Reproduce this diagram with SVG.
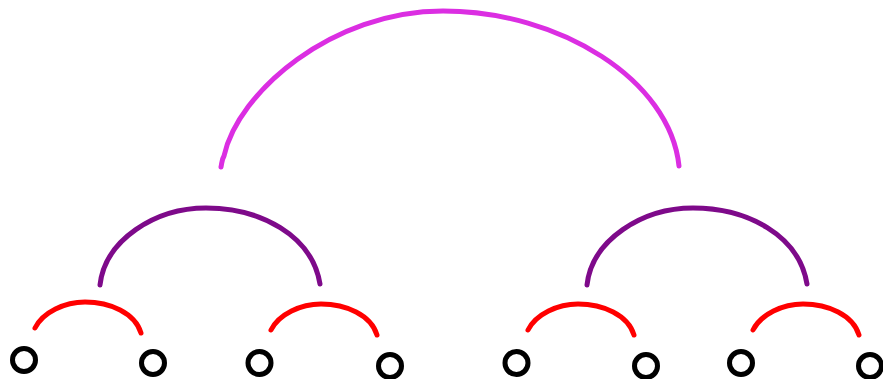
<svg xmlns="http://www.w3.org/2000/svg" width="883" height="379" viewBox="0 0 883 379">
<style>
.node{fill:none;stroke:#000;stroke-width:5}
.arc{fill:none;stroke-width:5;stroke-linecap:round;stroke-linejoin:round}
.red{stroke:#ff0000}
.purple{stroke:#7e0a8a}
.magenta{stroke:#db2ee2}
</style>
<defs>
<path id="redArc" d="M0,0 C8,-16 30,-26 50,-26 C75,-26 100,-15 106,5"/>
<path id="purpleArc" d="M0,0 C5,-45 55,-77 106,-77 C160,-77 212,-50 220,-1"/>
</defs>
<rect width="883" height="379" fill="#fff"/>
<g id="connectors">
<use href="#redArc" class="arc red" transform="translate(35,328)"/>
<use href="#redArc" class="arc red" transform="translate(271,330)"/>
<use href="#redArc" class="arc red" transform="translate(528,330)"/>
<use href="#redArc" class="arc red" transform="translate(753,330)"/>
<use href="#purpleArc" class="arc purple" transform="translate(100,285)"/>
<use href="#purpleArc" class="arc purple" transform="translate(587,285)"/>
<path class="arc magenta" d="M221,167 C222,162 222,159 224,156 C238,92 332,11 443,11 C560,11 670,80 679,166"/>
</g>
<g id="n1"><circle class="node" cx="24" cy="360" r="11.5"/></g>
<g id="n2"><circle class="node" cx="153" cy="363" r="11.5"/></g>
<g id="n3"><circle class="node" cx="259.5" cy="363" r="11.5"/></g>
<g id="n4"><circle class="node" cx="390" cy="366" r="11.5"/></g>
<g id="n5"><circle class="node" cx="516.5" cy="363" r="11.5"/></g>
<g id="n6"><circle class="node" cx="646" cy="366" r="11.5"/></g>
<g id="n7"><circle class="node" cx="741" cy="363" r="11.5"/></g>
<g id="n8"><circle class="node" cx="870" cy="366" r="11.5"/></g>
</svg>
